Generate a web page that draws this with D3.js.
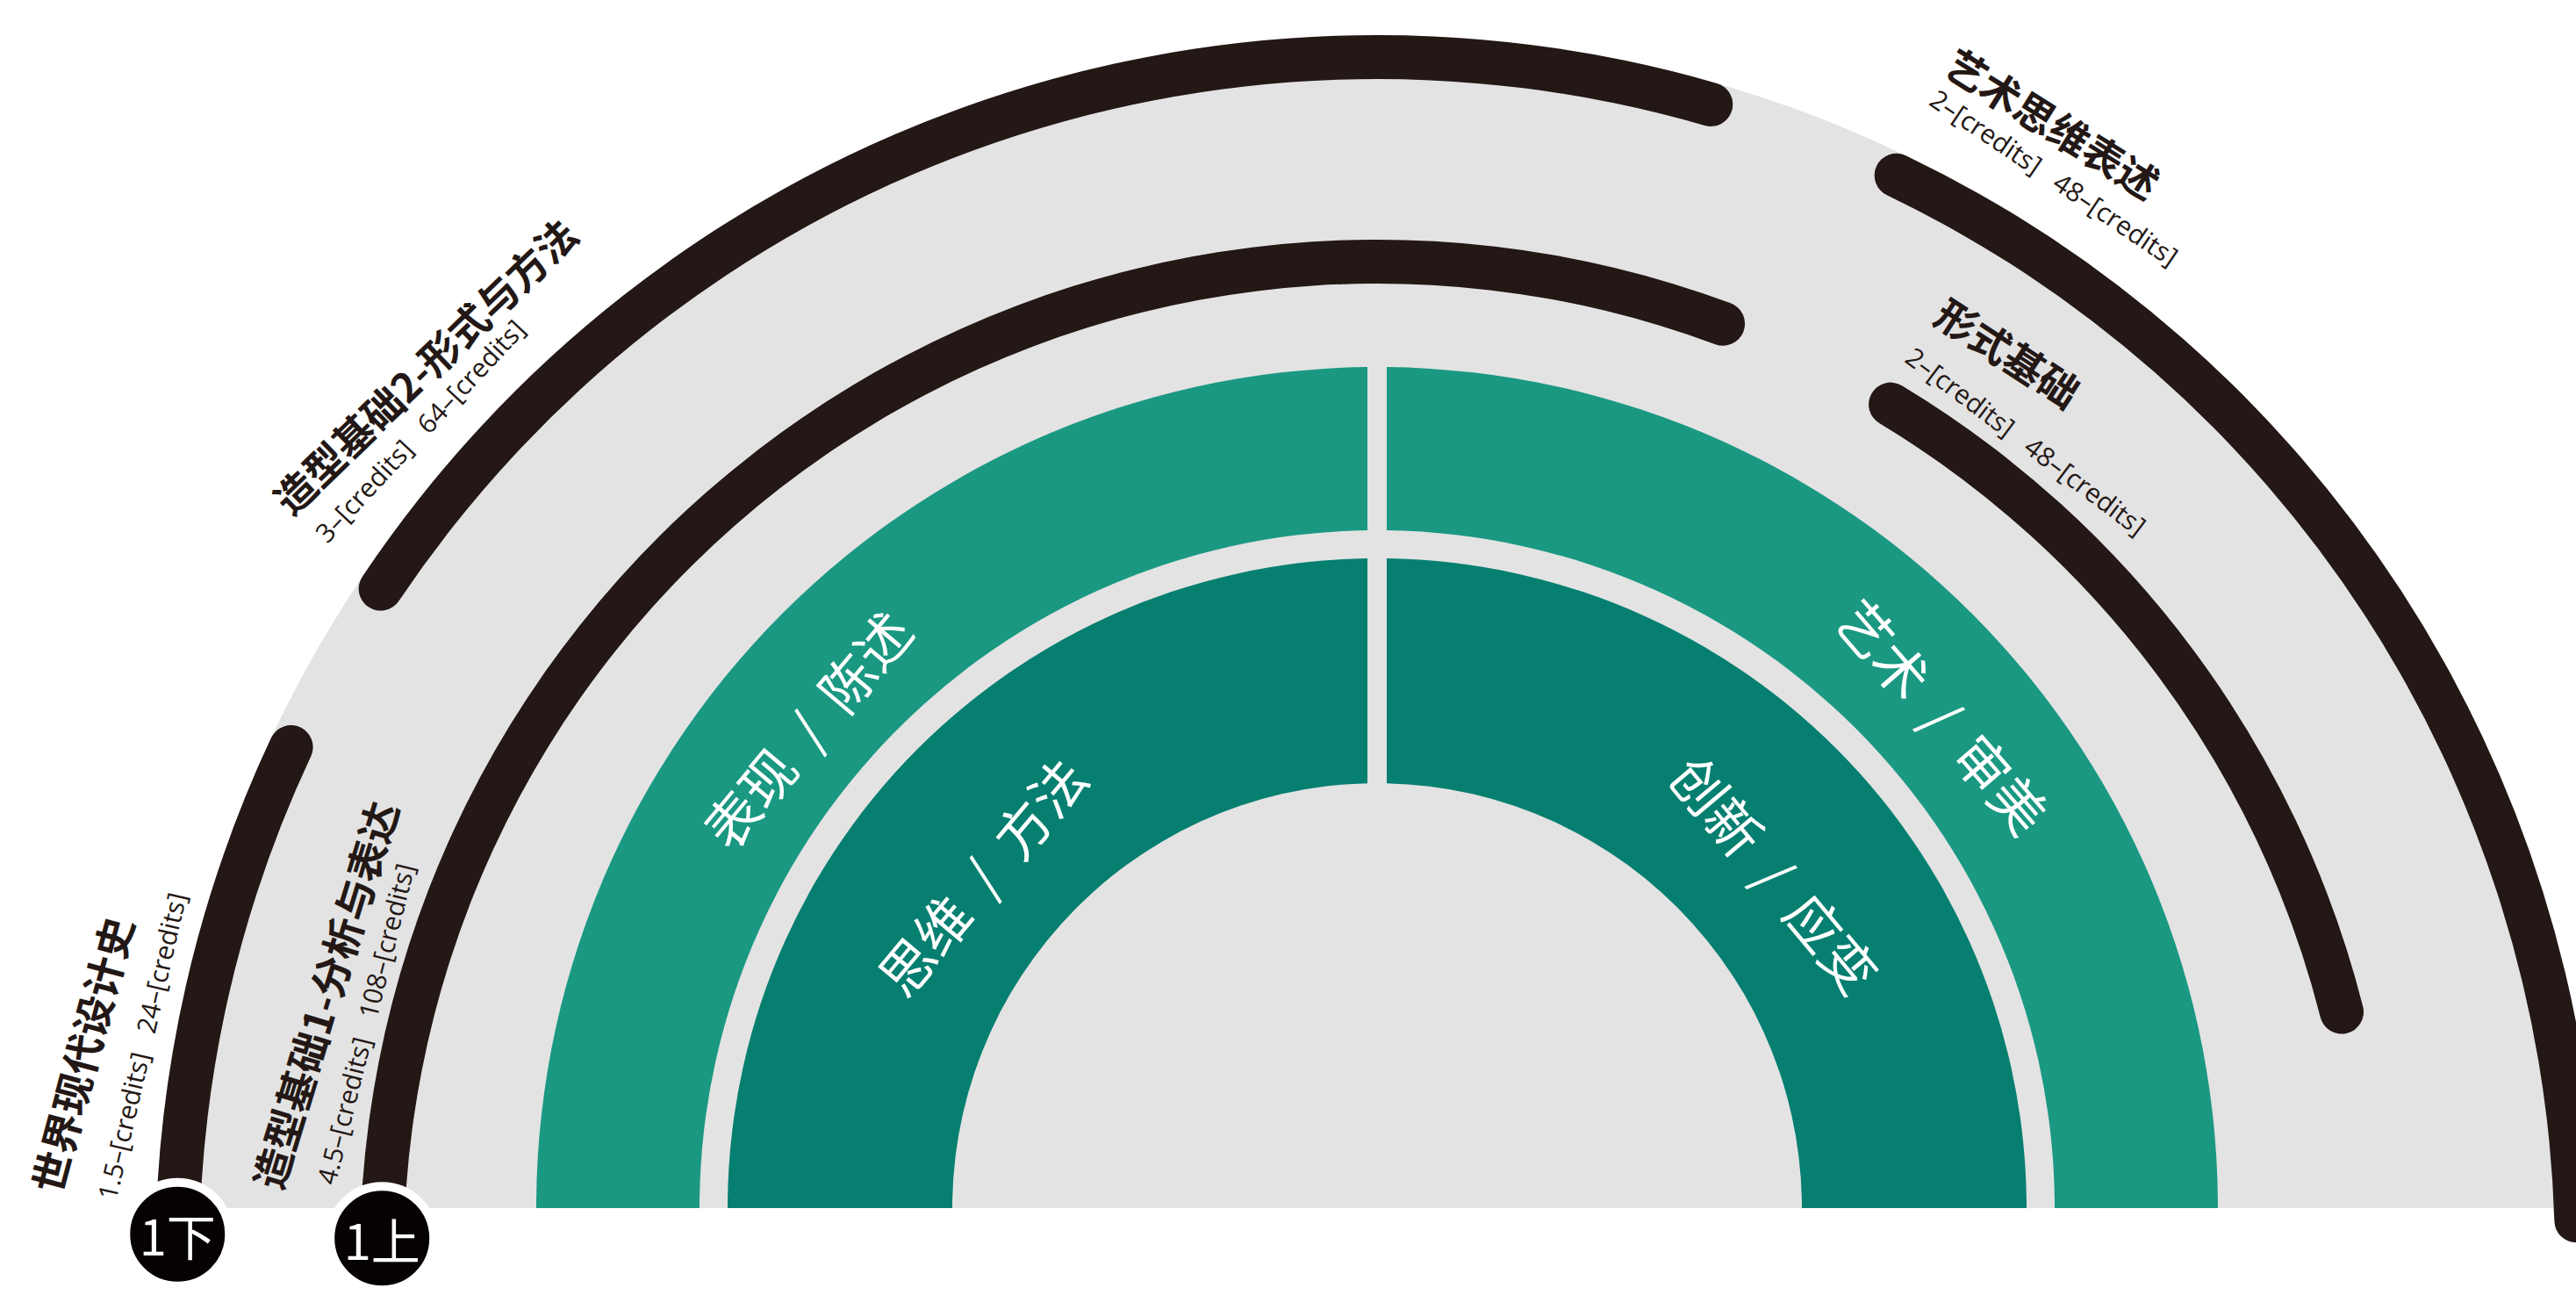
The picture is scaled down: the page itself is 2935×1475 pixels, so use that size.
<!DOCTYPE html>
<html>
<head>
<meta charset="utf-8">
<script src="https://cdn.jsdelivr.net/npm/d3@7"></script>
<style>
  html, body { margin: 0; padding: 0; background: #fff; }
  svg { display: block; }
  text { white-space: pre; }
</style>
</head>
<body>
<div id="chart"></div>
<script>
// 课程数据（外圈 0 / 内圈 1）
const courseNames   = ['世界现代设计史', '造型基础1-分析与表达', '造型基础2-形式与方法', '艺术思维表述', '形式基础'];
const courseCredits = [1.5, 4.5, 3, 2, 2];
const courseHours   = [24, 108, 64, 48, 48];
const courseTrack   = [0, 1, 0, 0, 1];
// 课程弧的起止角度（度，0 = 正上方，顺时针）
const courseStart   = [-90.5, -90.5, -57.2, 24.6, 29.8];
const courseEnd     = [-63.8, 21.6, 17.2, 89.3, 77];

// 学期节点
const semesterNames = ['1下', '1上'];
const semesterTrack = [0, 1];

// 能力扇区
const abilityNames = ['表现 / 陈述', '艺术 / 审美', '思维 / 方法', '创新 / 应变'];
const abilityBand  = [0, 0, 1, 1];   // 0 外层浅绿, 1 内层深绿
const abilitySide  = [0, 1, 0, 1];   // 0 左, 1 右

// ---- 版式 ----
const W = 2935, H = 1475;
const cx = 1569, baseY = 1376, trackCY = 1432;
const trackR = [1367, 1134];
const trackW = 50;
const bandR = [[772, 958], [484, 740]];
const sideSpan = [[-96, 0], [0, 96]];
const gap = 22;

const GRAY = '#e3e3e3', LIGHT = '#1a9882', DARK = '#067f70', INK = '#231815', DOT = '#060102';

// 标签位置（角度 / 半径 / 旋转）
const labelLayout = [
  { ta: -81.1, tr: 1495, trot: -75, sa: -80.3, sr: 1428, srot: -77 },
  { ta: -76.0, tr: 1237, trot: -73, sa: -77.0, sr: 1183, srot: -76 },
  { ta: -46.9, tr: 1487, trot: -44, sa: -49.2, sr: 1441, srot: -47 },
  { ta: 30.8,  tr: 1505, trot: 32,  sa: 32.1,  sr: 1452, srot: 34 },
  { ta: 34.9,  tr: 1258, trot: 33,  sa: 38.5,  sr: 1188, srot: 37 }
];
const abilityLayout = [
  { a: -50, r: 850 }, { a: 49, r: 856 }, { a: -50, r: 590 }, { a: 50, r: 594 }
];

const ang = d3.scaleLinear().domain([-90, 90]).range([-Math.PI / 2, Math.PI / 2]);
const polar = (deg, r) => [r * Math.sin(ang(deg)), -r * Math.cos(ang(deg))];

const svg = d3.select('#chart').append('svg')
  .attr('width', W).attr('height', H)
  .attr('viewBox', `0 0 ${W} ${H}`);

svg.append('defs').append('clipPath').attr('id', 'above')
  .append('rect').attr('x', 0).attr('y', 0).attr('width', W).attr('height', baseY);

const clipped = svg.append('g').attr('clip-path', 'url(#above)');

// 灰色半圆底
clipped.append('path')
  .attr('transform', `translate(${cx},${trackCY})`)
  .attr('d', d3.arc()({ innerRadius: 0, outerRadius: trackR[0] + trackW / 2,
    startAngle: ang(-90), endAngle: ang(90) }))
  .attr('fill', GRAY);

// 绿色能力扇区
const bandArc = d3.arc().padRadius(900).padAngle(gap / 900);
clipped.append('g')
  .attr('transform', `translate(${cx},${baseY})`)
  .selectAll('path')
  .data(abilityNames)
  .join('path')
  .attr('d', (d, i) => bandArc({
    innerRadius: bandR[abilityBand[i]][0],
    outerRadius: bandR[abilityBand[i]][1],
    startAngle: ang(sideSpan[abilitySide[i]][0]),
    endAngle: ang(sideSpan[abilitySide[i]][1])
  }))
  .attr('fill', (d, i) => abilityBand[i] === 0 ? LIGHT : DARK);

// 能力文字
svg.append('g')
  .attr('transform', `translate(${cx},${baseY})`)
  .selectAll('text')
  .data(abilityNames)
  .join('text')
  .attr('transform', (d, i) => {
    const L = abilityLayout[i];
    const [x, y] = polar(L.a, L.r);
    return `translate(${x},${y}) rotate(${L.a})`;
  })
  .attr('text-anchor', 'middle')
  .attr('dominant-baseline', 'central')
  .attr('font-family', '"Noto Sans CJK SC", sans-serif')
  .attr('font-size', 62)
  .attr('fill', '#fff')
  .text(d => d.replace(' / ', '  /  '));

// 课程弧
const track = svg.append('g').attr('transform', `translate(${cx},${trackCY})`);
track.selectAll('path')
  .data(courseNames)
  .join('path')
  .attr('d', (d, i) => {
    const r = trackR[courseTrack[i]];
    return d3.arc().cornerRadius(trackW / 2)({
      innerRadius: r - trackW / 2, outerRadius: r + trackW / 2,
      startAngle: ang(courseStart[i]), endAngle: ang(courseEnd[i])
    });
  })
  .attr('fill', INK);

// 课程标题与学分学时
const labels = track.selectAll('g.lbl')
  .data(courseNames)
  .join('g').attr('class', 'lbl');

labels.append('text')
  .attr('transform', (d, i) => {
    const L = labelLayout[i];
    const [x, y] = polar(L.ta, L.tr);
    return `translate(${x},${y}) rotate(${L.trot})`;
  })
  .attr('text-anchor', 'middle')
  .attr('dominant-baseline', 'central')
  .attr('font-family', '"Noto Sans CJK SC", sans-serif')
  .attr('font-weight', 700)
  .attr('font-size', 46)
  .attr('fill', INK)
  .text(d => d);

labels.append('text')
  .attr('transform', (d, i) => {
    const L = labelLayout[i];
    const [x, y] = polar(L.sa, L.sr);
    return `translate(${x},${y}) rotate(${L.srot})`;
  })
  .attr('text-anchor', 'middle')
  .attr('dominant-baseline', 'central')
  .attr('font-family', '"Open Sans", "Noto Sans", sans-serif')
  .attr('font-weight', 400)
  .attr('font-size', 30)
  .attr('fill', INK)
  .text((d, i) => `${courseCredits[i]}–[credits]   ${courseHours[i]}–[credits]`);

// 学期节点
const sem = track.selectAll('g.sem')
  .data(semesterNames)
  .join('g').attr('class', 'sem')
  .attr('transform', (d, i) => {
    const [x, y] = polar(-88.9, trackR[semesterTrack[i]]);
    return `translate(${x},${y})`;
  });

sem.append('circle')
  .attr('r', 59)
  .attr('fill', DOT)
  .attr('stroke', '#fff')
  .attr('stroke-width', 10);

sem.append('text')
  .attr('text-anchor', 'middle')
  .attr('dominant-baseline', 'central')
  .attr('font-family', '"Noto Sans CJK SC", sans-serif')
  .attr('font-size', 56)
  .attr('fill', '#fff')
  .text(d => d);
</script>
</body>
</html>
